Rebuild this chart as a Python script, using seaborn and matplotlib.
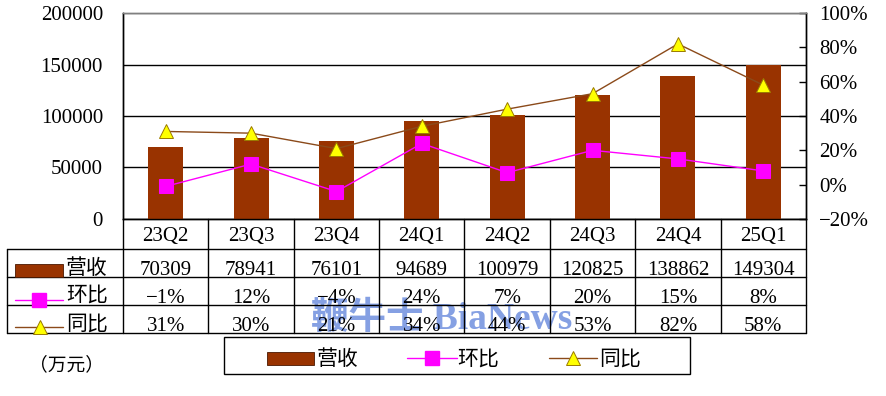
import numpy as np
import pandas as pd
import matplotlib
matplotlib.use('Agg')
import matplotlib.pyplot as plt
import seaborn as sns
from matplotlib.patches import Rectangle

# ---------------- data ----------------
quarters = ['23Q2', '23Q3', '23Q4', '24Q1', '24Q2', '24Q3', '24Q4', '25Q1']
revenue = [70309, 78941, 76101, 94689, 100979, 120825, 138862, 149304]
qoq_pct = [-1, 12, -4, 24, 7, 20, 15, 8]
yoy_pct = [31, 30, 21, 34, 44, 53, 82, 58]
left_ticks = [0, 50000, 100000, 150000, 200000]
right_ticks = [-20, 0, 20, 40, 60, 80, 100]
series_names = ['营收', '环比', '同比']
unit_label = '（万元）'
watermark = '鞭牛士 BiaNews'

BROWN = '#993300'
MAGENTA = '#FF00FF'
YELLOW = '#FFFF00'
LINE_BROWN = '#8B4A1A'
TRI_EDGE = '#9a7a00'
FS = 15

sns.set_theme(style='white')
plt.rcParams['font.family'] = ['Liberation Serif', 'Noto Sans CJK SC', 'DejaVu Sans']
plt.rcParams['axes.unicode_minus'] = True

def pct(v):
    return f'{v}%'.replace('-', '\u2212')

W, H = 886, 396
fig = plt.figure(figsize=(W / 100, H / 100), dpi=100)
L, R, T, B = 123, 806, 13, 219
ax = fig.add_axes([L / W, 1 - B / H, (R - L) / W, (B - T) / H])

df = pd.DataFrame({'q': quarters, 'rev': revenue, 'qoq': qoq_pct, 'yoy': yoy_pct})

sns.barplot(data=df, x='q', y='rev', color=BROWN, width=0.41, saturation=1,
            linewidth=0, ax=ax, zorder=3)
ax.set_xlim(-0.5, len(quarters) - 0.5)
ax.set_ylim(left_ticks[0], left_ticks[-1])
ax.set_yticks(left_ticks)
ax.set_yticklabels([str(v) for v in left_ticks])
ax.set_axisbelow(True)
ax.grid(axis='y', color='black', lw=1)
ax.grid(axis='x', visible=False)
ax.get_ygridlines()[-1].set_color('#808080')
ax.tick_params(axis='y', left=False, length=0, pad=14.4, labelsize=FS, colors='black')
ax.tick_params(axis='x', bottom=False, labelbottom=False)
ax.set_xlabel('')
ax.set_ylabel('')

ax2 = ax.twinx()
sns.lineplot(data=df, x='q', y='qoq', ax=ax2, color=MAGENTA, lw=1, sort=False,
             marker='s', markersize=10, markeredgecolor=MAGENTA, legend=False)
sns.lineplot(data=df, x='q', y='yoy', ax=ax2, color=LINE_BROWN, lw=1, sort=False,
             marker='^', markersize=10.5, markerfacecolor=YELLOW,
             markeredgecolor=TRI_EDGE, markeredgewidth=0.7, legend=False)
ax2.set_ylim(right_ticks[0], right_ticks[-1])
ax2.set_yticks(right_ticks)
ax2.set_yticklabels([pct(v) for v in right_ticks])
ax2.tick_params(axis='y', right=True, direction='in', length=5, width=1,
                color='black', pad=9.5, labelsize=FS, labelcolor='black')
ax2.grid(False)
ax2.set_xlabel('')
ax2.set_ylabel('')
for a in (ax, ax2):
    for s in ('left', 'right', 'bottom'):
        a.spines[s].set_color('black')
        a.spines[s].set_linewidth(1)
    a.spines['top'].set_color('#808080')
    a.spines['top'].set_linewidth(1)

# ---------------- overlay: table, legend, texts ----------------
ov = fig.add_axes([0, 0, 1, 1], zorder=10)
ov.set_xlim(0, W)
ov.set_ylim(H, 0)
ov.axis('off')
ov.patch.set_alpha(0)

# watermark sits underneath the table
ov.text(442, 329, watermark, ha='center', va='baseline', fontsize=27,
        fontweight='bold', color='#7896e0', alpha=0.9, zorder=1)

n = len(quarters)
col_w = (R - L) / n
TL = 7
rows = [249, 277, 305, 333]
for i in range(n + 1):
    x = L + i * col_w
    ov.plot([x, x], [B, rows[-1]], color='black', lw=1, zorder=3)
ov.plot([TL, TL], [rows[0], rows[-1]], color='black', lw=1, zorder=3)
for y in rows:
    ov.plot([TL, R], [y, y], color='black', lw=1, zorder=3)

cx = [L + (i + 0.5) * col_w for i in range(n)]
for i, q in enumerate(quarters):
    ov.text(cx[i], 241, q, ha='center', va='baseline', fontsize=FS, color='black', zorder=4)
    ov.text(cx[i], 275, str(revenue[i]), ha='center', va='baseline', fontsize=FS, color='black', zorder=4)
    ov.text(cx[i], 303, pct(qoq_pct[i]), ha='center', va='baseline', fontsize=FS, color='black', zorder=4)
    ov.text(cx[i], 331, pct(yoy_pct[i]), ha='center', va='baseline', fontsize=FS, color='black', zorder=4)

# row label keys
ov.add_patch(Rectangle((15, 264), 48, 13, facecolor=BROWN, edgecolor='#4a1800', lw=0.6, zorder=4))
ov.plot([15, 63], [300, 300], color=MAGENTA, lw=1, zorder=4)
ov.plot([39], [300], marker='s', markersize=10, color=MAGENTA, zorder=5)
ov.plot([15, 63], [327, 327], color=LINE_BROWN, lw=1, zorder=4)
ov.plot([40], [327], marker='^', markersize=10.5, markerfacecolor=YELLOW,
        markeredgecolor=TRI_EDGE, markeredgewidth=0.7, zorder=5)
for name, yb in zip(series_names, [274, 301, 330]):
    ov.text(66, yb, name, ha='left', va='baseline', fontsize=FS, color='black', zorder=4)

# legend box
ov.add_patch(Rectangle((224, 337), 466, 37, facecolor='white', edgecolor='black', lw=1, zorder=4))
ov.add_patch(Rectangle((267, 352), 47, 13, facecolor=BROWN, edgecolor='#4a1800', lw=0.6, zorder=5))
ov.text(317, 365, series_names[0], ha='left', va='baseline', fontsize=FS, color='black', zorder=5)
ov.plot([407, 457], [358, 358], color=MAGENTA, lw=1, zorder=5)
ov.plot([432], [358], marker='s', markersize=10, color=MAGENTA, zorder=6)
ov.text(457, 365, series_names[1], ha='left', va='baseline', fontsize=FS, color='black', zorder=5)
ov.plot([549, 597], [358, 358], color=LINE_BROWN, lw=1, zorder=5)
ov.plot([573], [358], marker='^', markersize=10.5, markerfacecolor=YELLOW,
        markeredgecolor=TRI_EDGE, markeredgewidth=0.7, zorder=6)
ov.text(599, 365, series_names[2], ha='left', va='baseline', fontsize=FS, color='black', zorder=5)

ov.text(67, 370, unit_label, ha='center', va='baseline', fontsize=13.5, color='black', zorder=4)

fig.savefig('out.png', dpi=100)
